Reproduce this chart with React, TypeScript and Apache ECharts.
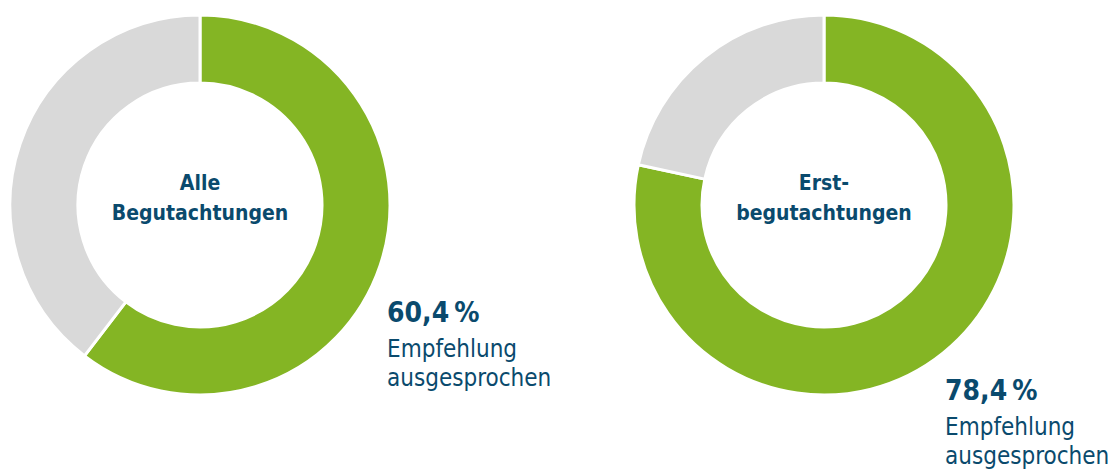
import React, { useEffect, useRef } from "react";
import * as echarts from "echarts";

const categories = ["Empfehlung ausgesprochen", "keine Empfehlung"];
const chartTitles = [["Alle", "Begutachtungen"], ["Erst-", "begutachtungen"]];
const valuesAll = [60.4, 39.6];
const valuesFirst = [78.4, 21.6];
const labelLines = ["Empfehlung", "ausgesprochen"];

const GREEN = "#84b524";
const GRAY = "#d9d9d9";
const BLUE = "#0a4a6d";
const FONT = "'DejaVu Sans Condensed', 'Liberation Sans Narrow', 'Noto Sans', sans-serif";

const fmt = (v: number) => v.toFixed(1).replace(".", ",") + "\u2009%";

export default function App() {
  const ref = useRef<HTMLDivElement>(null);
  useEffect(() => {
    if (!ref.current) return;
    const chart = echarts.init(ref.current, null, { renderer: "svg" });
    const mkSeries = (vals: number[], center: [number, number]) => ({
      type: "pie",
      center,
      radius: [122, 190],
      startAngle: 90,
      clockwise: true,
      silent: true,
      label: { show: false },
      labelLine: { show: false },
      itemStyle: { borderColor: "#fff", borderWidth: 3 },
      data: vals.map((v, i) => ({ name: categories[i], value: v, itemStyle: { color: i === 0 ? GREEN : GRAY } })),
    });
    const centerText = (lines: string[], cx: number) => ({
      type: "text",
      x: cx,
      y: 198,
      style: {
        text: lines.join("\n"),
        font: `bold 21px ${FONT}`,
        fill: BLUE,
        align: "center",
        verticalAlign: "middle",
        lineHeight: 30,
      },
    });
    const pctText = (v: number, x: number, y: number) => ({
      type: "group",
      children: [
        {
          type: "text",
          x,
          y,
          style: { text: fmt(v), font: `bold 28px ${FONT}`, fill: BLUE, align: "left", verticalAlign: "top" },
        },
        {
          type: "text",
          x,
          y: y + 36,
          style: {
            text: labelLines.join("\n"),
            font: `24px ${FONT}`,
            fill: BLUE,
            align: "left",
            verticalAlign: "top",
            lineHeight: 29,
          },
        },
      ],
    });
    chart.setOption({
      animation: false,
      series: [mkSeries(valuesAll, [200, 205]), mkSeries(valuesFirst, [824, 205])],
      graphic: [
        centerText(chartTitles[0], 200),
        centerText(chartTitles[1], 824),
        pctText(valuesAll[0], 387, 298),
        pctText(valuesFirst[0], 945, 376),
      ],
    });
    return () => chart.dispose();
  }, []);
  return <div ref={ref} style={{ position: "absolute", left: 0, top: 0, width: 1112, height: 472 }} />;
}
